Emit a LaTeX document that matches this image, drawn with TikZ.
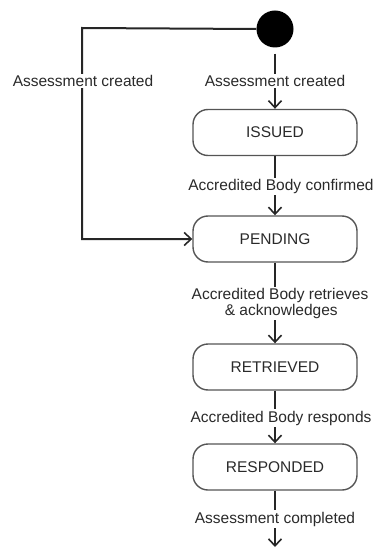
\documentclass[tikz,border=0pt]{standalone}
\usepackage{fontspec}
\setmainfont{Liberation Sans}
\usetikzlibrary{arrows.meta}
\definecolor{txt}{HTML}{2A2A2A}
\definecolor{boxline}{HTML}{555555}
\begin{document}
\begin{tikzpicture}[x=1pt,y=-1pt,
  font=\fontsize{15.5}{18}\selectfont,
  statebox/.style={draw=boxline,line width=1.4pt,rounded corners=15pt,
    minimum width=164pt,minimum height=46pt,text=txt,inner sep=0pt},
  conn/.style={draw=black!85,line width=2pt,-{Straight Barb[length=7pt,width=13pt,line width=1.6pt]}},
  lbl/.style={fill=white,text=txt,inner sep=1.5pt,align=center}]
\useasboundingbox (0,0) rectangle (376,548);
\node[circle,fill=black,minimum size=37pt,inner sep=0pt] (start) at (275,29) {};
\node[statebox] (issued) at (275,132.5) {ISSUED};
\node[statebox] (pending) at (275,239) {PENDING};
\node[statebox] (retrieved) at (275,367) {RETRIEVED};
\node[statebox] (responded) at (275,467) {RESPONDED};
\coordinate (lc) at (82,28);
\coordinate (fin) at (275,547);
\draw[conn] (start.west) -- (lc) |- (pending.west);
\draw[conn,shorten <=6pt] (start.south) -- (issued.north);
\draw[conn] (issued.south) -- (pending.north);
\draw[conn] (pending.south) -- (retrieved.north);
\draw[conn] (retrieved.south) -- (responded.north);
\draw[conn] (responded.south) -- (fin);
\node[lbl] (l0) at (83,81) {Assessment created};
\node[lbl] (l1) at (275,81) {Assessment created};
\node[lbl] (l2) at (281,186.5) {Accredited Body confirmed};
\node[lbl,align=center,inner sep=1pt] (l3) at (280,303.5) {Accredited Body retrieves\\[-2pt]\,\& acknowledges};
\node[lbl] (l4) at (281,418) {Accredited Body responds};
\node[lbl] (l5) at (275,519) {Assessment completed};
\end{tikzpicture}
\end{document}
